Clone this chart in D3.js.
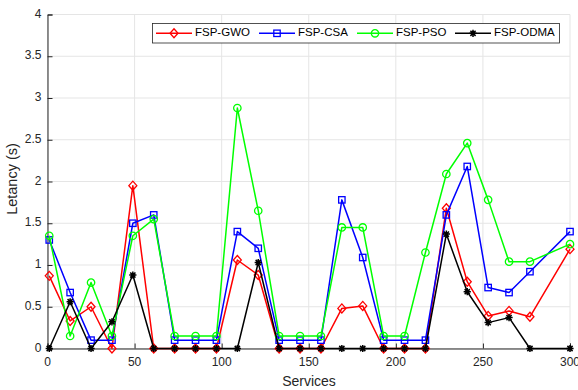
<!DOCTYPE html>
<html>
<head>
<meta charset="utf-8">
<script src="https://cdn.jsdelivr.net/npm/d3@7"></script>
<style>
  html, body { margin: 0; padding: 0; background: #fff; }
  svg { display: block; font-family: "Liberation Sans", Arial, Helvetica, sans-serif; }
</style>
</head>
<body>
<svg id="chart" width="578" height="390"></svg>
<script>
const services = [1,13,25,37,49,61,73,85,97,109,121,133,145,157,169,181,193,205,217,229,241,253,265,277,300];
const gwo  = [0.87,0.33,0.50,0,1.95,0,0,0,0,1.06,0.88,0,0,0,0.48,0.51,0,0,0,1.68,0.80,0.39,0.45,0.38,1.19];
const csa  = [1.30,0.67,0.10,0.10,1.50,1.60,0.10,0.10,0.10,1.40,1.20,0.10,0.10,0.10,1.78,1.09,0.10,0.10,0.10,1.60,2.18,0.73,0.67,0.92,1.40];
const pso  = [1.35,0.15,0.79,0.15,1.35,1.55,0.15,0.15,0.15,2.88,1.65,0.15,0.15,0.15,1.45,1.45,0.15,0.15,1.15,2.09,2.46,1.78,1.04,1.04,1.25];
const odma = [0,0.56,0,0.32,0.88,0,0,0,0,0,1.03,0,0,0,0,0,0,0,0,1.37,0.68,0.31,0.37,0,0];
const seriesNames = ["FSP-GWO","FSP-CSA","FSP-PSO","FSP-ODMA"];
const xTicks = [0,50,100,150,200,250,300];
const yTicks = [0,0.5,1,1.5,2,2.5,3,3.5,4];

const series = [
  {name: seriesNames[0], values: gwo,  color: "#ff0000", marker: "diamond"},
  {name: seriesNames[1], values: csa,  color: "#0000ff", marker: "square"},
  {name: seriesNames[2], values: pso,  color: "#00ff00", marker: "circle"},
  {name: seriesNames[3], values: odma, color: "#000000", marker: "star"}
];

const svg = d3.select("#chart");
const x = d3.scaleLinear().domain([0,300]).range([47.5,570]);
const y = d3.scaleLinear().domain([0,4]).range([348.5,14.5]);
const textCol = "#262626";

// grid
const grid = svg.append("g");
grid.selectAll("line.v").data(xTicks).join("line")
  .attr("x1", d => x(d)).attr("x2", d => x(d))
  .attr("y1", y(0)).attr("y2", y(4))
  .attr("stroke", "#e5e5e5").attr("stroke-width", 1);
grid.selectAll("line.h").data(yTicks).join("line")
  .attr("x1", x(0)).attr("x2", x(300))
  .attr("y1", d => y(d)).attr("y2", d => y(d))
  .attr("stroke", "#e5e5e5").attr("stroke-width", 1);

// axes
const fmt = d => d3.format("~g")(d);
const xAxis = svg.append("g").attr("transform", `translate(0,${y(0)})`)
  .call(d3.axisTop(x).tickValues(xTicks).tickSize(5).tickFormat(""));
xAxis.select(".domain").attr("stroke", textCol);
xAxis.selectAll(".tick line").attr("stroke", textCol);
svg.append("g").selectAll("text").data(xTicks).join("text")
  .attr("x", d => x(d)).attr("y", 363)
  .attr("text-anchor", "middle").attr("dominant-baseline", "middle")
  .attr("font-size", 12).attr("fill", textCol).text(fmt);

const yAxis = svg.append("g").attr("transform", `translate(${x(0)},0)`)
  .call(d3.axisRight(y).tickValues(yTicks).tickSize(5).tickFormat(""));
yAxis.select(".domain").attr("stroke", textCol);
yAxis.selectAll(".tick line").attr("stroke", textCol);
svg.append("g").selectAll("text").data(yTicks).join("text")
  .attr("x", 41.5).attr("y", d => y(d))
  .attr("text-anchor", "end").attr("dominant-baseline", "middle")
  .attr("font-size", 12).attr("fill", textCol).text(fmt);

svg.append("text").attr("x", 309).attr("y", 382)
  .attr("text-anchor", "middle").attr("dominant-baseline", "middle")
  .attr("font-size", 14).attr("fill", textCol).text("Services");
svg.append("text").attr("transform", "translate(13.5,179) rotate(-90)")
  .attr("text-anchor", "middle").attr("dominant-baseline", "middle")
  .attr("font-size", 14.5).attr("fill", textCol).text("Letancy (s)");

// markers
function drawMarker(g, type, color) {
  if (type === "diamond") {
    g.append("path").attr("d", "M0,-4.5L4,0L0,4.5L-4,0Z").attr("fill", "none").attr("stroke", color).attr("stroke-width", 1.3);
  } else if (type === "square") {
    g.append("rect").attr("x", -3.2).attr("y", -3.2).attr("width", 6.4).attr("height", 6.4).attr("fill", "none").attr("stroke", color).attr("stroke-width", 1.3);
  } else if (type === "circle") {
    g.append("circle").attr("r", 3.7).attr("fill", "none").attr("stroke", color).attr("stroke-width", 1.3);
  } else {
    g.append("path").attr("d", "M-3.6,0H3.6M0,-3.6V3.6M-2.6,-2.6L2.6,2.6M-2.6,2.6L2.6,-2.6").attr("stroke", color).attr("stroke-width", 1.5).attr("fill", "none");
  }
}

const line = d3.line().x(d => x(d[0])).y(d => y(d[1]));
series.forEach(s => {
  const pts = services.map((sv, i) => [sv, s.values[i]]);
  const g = svg.append("g");
  g.append("path").datum(pts).attr("d", line)
    .attr("fill", "none").attr("stroke", s.color).attr("stroke-width", 1.5).attr("stroke-linejoin", "round");
  pts.forEach(p => {
    const mg = g.append("g").attr("transform", `translate(${x(p[0])},${y(p[1])})`);
    drawMarker(mg, s.marker, s.color);
  });
});

// legend
const lg = svg.append("g");
lg.append("rect").attr("x", 152.5).attr("y", 23.5).attr("width", 407).attr("height", 19.5)
  .attr("fill", "#fff").attr("stroke", textCol).attr("stroke-width", 0.8);
const legendX = [156, 259, 357, 455];
series.forEach((s, i) => {
  const lx = legendX[i];
  const ly = 33.3;
  lg.append("line").attr("x1", lx).attr("x2", lx + 36).attr("y1", ly).attr("y2", ly)
    .attr("stroke", s.color).attr("stroke-width", 1.5);
  const mg = lg.append("g").attr("transform", `translate(${lx + 18},${ly})`);
  drawMarker(mg, s.marker, s.color);
  lg.append("text").attr("x", lx + 39).attr("y", ly).attr("dominant-baseline", "middle")
    .attr("font-size", 11.5).attr("fill", "#000").text(s.name);
});
</script>
</body>
</html>
